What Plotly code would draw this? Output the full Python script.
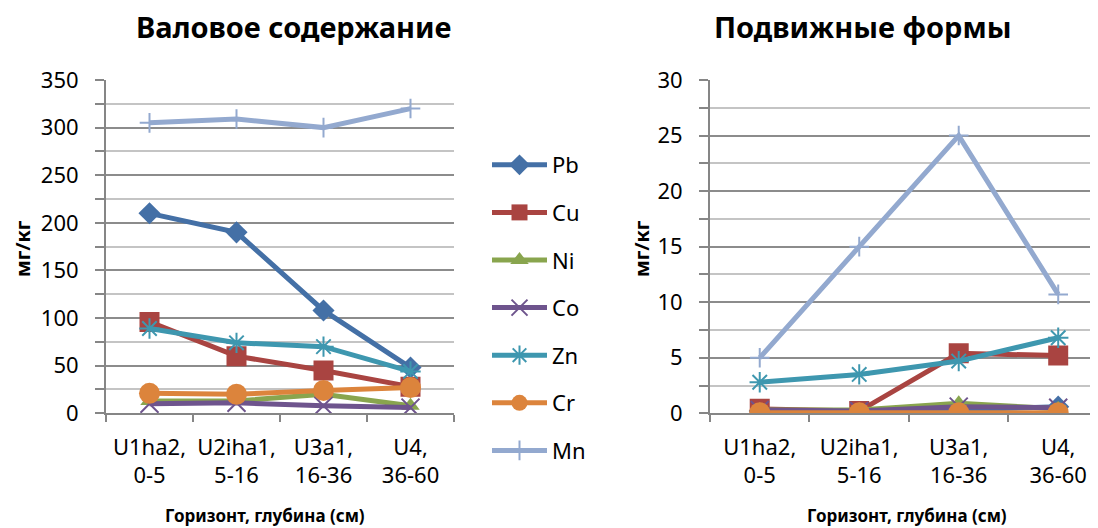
import plotly.graph_objects as go

categories = ["U1ha2,<br>0-5", "U2iha1,<br>5-16", "U3a1,<br>16-36", "U4,<br>36-60"]
elements = ["Pb", "Cu", "Ni", "Co", "Zn", "Cr", "Mn"]

# Валовое содержание (мг/кг)
total_Pb = [210, 190, 108, 48]
total_Cu = [96, 60, 45, 28]
total_Ni = [13, 13, 20, 8]
total_Co = [10, 11, 8, 6]
total_Zn = [89, 74, 70, 44]
total_Cr = [21, 20, 24, 27]
total_Mn = [305, 309, 300, 320]

# Подвижные формы (мг/кг)
mobile_Pb = [0.2, 0.1, 0.3, 0.6]
mobile_Cu = [0.4, 0.2, 5.4, 5.2]
mobile_Ni = [0.3, 0.3, 0.9, 0.4]
mobile_Co = [0.3, 0.2, 0.6, 0.5]
mobile_Zn = [2.8, 3.5, 4.7, 6.8]
mobile_Cr = [0.05, 0.05, 0.05, 0.05]
mobile_Mn = [5.0, 15.0, 25.0, 10.7]

left_ticks = [0, 50, 100, 150, 200, 250, 300, 350]
right_ticks = [0, 5, 10, 15, 20, 25, 30]

total = [total_Pb, total_Cu, total_Ni, total_Co, total_Zn, total_Cr, total_Mn]
mobile = [mobile_Pb, mobile_Cu, mobile_Ni, mobile_Co, mobile_Zn, mobile_Cr, mobile_Mn]

colors = ["#4470A6", "#A94441", "#89A54E", "#6E548D", "#3E97AF", "#DC843C", "#93A9CF"]
symbols = ["diamond", "square", "triangle-up", "x-thin-open", "asterisk-open", "circle", "cross-thin-open"]
sizes = [17, 20, 16, 18, 17, 21, 14]

FONT = "Noto Sans"

# page body has an 8px default margin: figure is offset by 8px in the screenshot
OFF = 8
W, H = 1090, 520


def px(x):
    return (x - OFF) / W


def py(y):
    return 1 - (y - OFF) / H


fig = go.Figure()
for i, el in enumerate(elements):
    open_sym = symbols[i].endswith("open")
    mk = dict(symbol=symbols[i], size=sizes[i], color=colors[i],
              line=dict(color=colors[i], width=2 if open_sym else 0))
    fig.add_trace(go.Scatter(x=categories, y=total[i], name=el, mode="lines+markers",
                             line=dict(color=colors[i], width=5), marker=mk,
                             legendgroup=el, xaxis="x", yaxis="y"))
    fig.add_trace(go.Scatter(x=categories, y=mobile[i], name=el, mode="lines+markers",
                             line=dict(color=colors[i], width=5), marker=mk,
                             legendgroup=el, showlegend=False, xaxis="x2", yaxis="y2"))

ydom = [py(413.3), py(80)]

xcommon = dict(type="category", showline=True, linecolor="#868686", linewidth=2,
               ticks="outside", tickson="boundaries", ticklen=7, tickcolor="#868686",
               tickwidth=1.5, showgrid=False, tickfont=dict(family=FONT, size=22, color="black"),
               tickangle=0,
               categoryorder="array", categoryarray=categories, zeroline=False, automargin=False,
               ticklabelstandoff=13)
ycommon = dict(showline=True, linecolor="#868686", linewidth=2, ticks="outside", ticklen=9,
               tickcolor="#868686", tickwidth=1.5, showgrid=True, gridcolor="#8c8c8c",
               gridwidth=1.5, zeroline=False, tickfont=dict(family=FONT, size=22, color="black"),
               ticklabelstandoff=12, automargin=False)

fig.update_layout(
    width=W, height=H, autosize=False,
    margin=dict(l=0, r=0, t=0, b=0, autoexpand=False),
    paper_bgcolor="white", plot_bgcolor="white",
    font=dict(family=FONT, color="black"),
    xaxis=dict(domain=[px(106), px(454)], range=[-0.5, 3.5], anchor="y", **xcommon),
    yaxis=dict(domain=ydom, range=[0, 350], tickvals=left_ticks, anchor="x",
               minor=dict(dtick=25, showgrid=True, gridcolor="#c4c4c4", gridwidth=1.5,
                          ticks="outside", ticklen=9, tickcolor="#868686", tickwidth=1.5),
               **ycommon),
    xaxis2=dict(domain=[px(710), 1.0], range=[-0.5, 3.40], anchor="y2", **xcommon),
    yaxis2=dict(domain=ydom, range=[0, 30], tickvals=right_ticks, anchor="x2",
                minor=dict(dtick=2.5, showgrid=True, gridcolor="#c4c4c4", gridwidth=1.5,
                           ticks="outside", ticklen=9, tickcolor="#868686", tickwidth=1.5),
                **ycommon),
    legend=dict(x=px(487), xanchor="left", y=py(144), yanchor="top",
                font=dict(family=FONT, size=22, color="black"),
                tracegroupgap=16, itemwidth=55, bgcolor="rgba(0,0,0,0)"),
    showlegend=True,
)

annotations = [
    dict(text="<b>Валовое содержание</b>", x=px(294), y=py(27), xref="paper", yref="paper",
         showarrow=False, font=dict(family=FONT, size=29, color="black"), xanchor="center", yanchor="middle"),
    dict(text="<b>Подвижные формы</b>", x=px(862), y=py(27), xref="paper", yref="paper",
         showarrow=False, font=dict(family=FONT, size=29, color="black"), xanchor="center", yanchor="middle"),
    dict(text="<b>мг/кг</b>", x=px(22), y=py(249), xref="paper", yref="paper", textangle=-90,
         showarrow=False, font=dict(family=FONT, size=20, color="black"), xanchor="center", yanchor="middle"),
    dict(text="<b>мг/кг</b>", x=px(641), y=py(249), xref="paper", yref="paper", textangle=-90,
         showarrow=False, font=dict(family=FONT, size=20, color="black"), xanchor="center", yanchor="middle"),
    dict(text="<b>Горизонт, глубина (см)</b>", x=px(265), y=py(515), xref="paper", yref="paper",
         showarrow=False, font=dict(family=FONT, size=17, color="black"), xanchor="center", yanchor="middle"),
    dict(text="<b>Горизонт, глубина (см)</b>", x=px(907), y=py(515), xref="paper", yref="paper",
         showarrow=False, font=dict(family=FONT, size=17, color="black"), xanchor="center", yanchor="middle"),
]
fig.update_layout(annotations=annotations)

fig.write_html("out.html")
